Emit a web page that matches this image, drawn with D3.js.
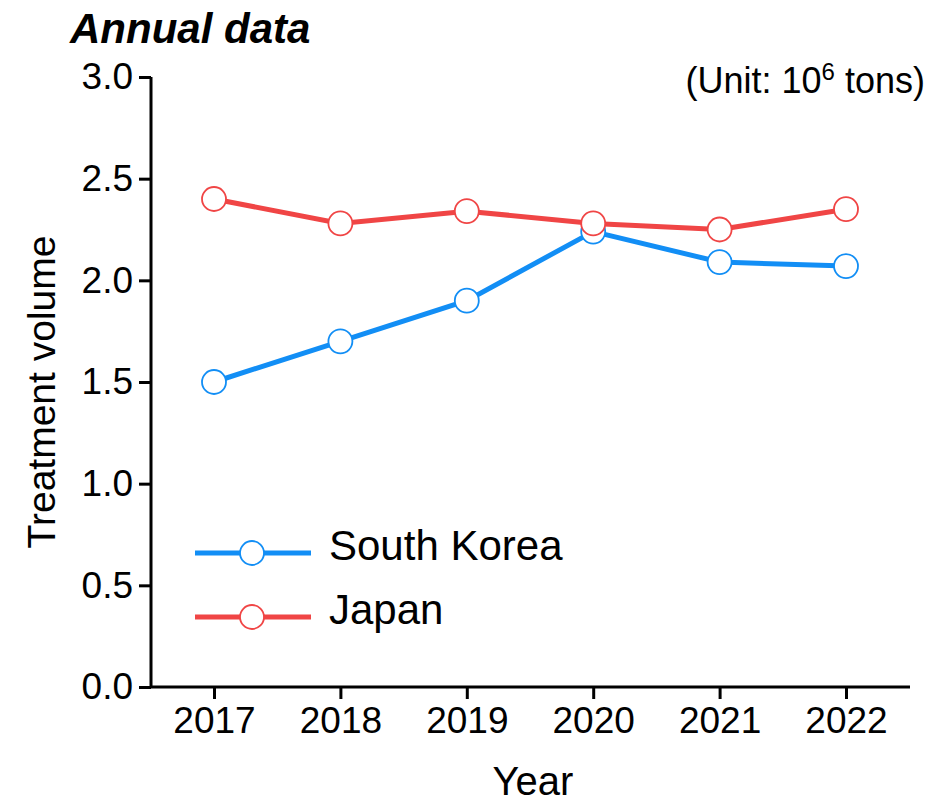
<!DOCTYPE html>
<html>
<head>
<meta charset="utf-8">
<script src="https://d3js.org/d3.v7.min.js"></script>
<style>
  body { margin: 0; background: white; }
  text { font-family: "Liberation Sans", Arial, sans-serif; fill: black; }
</style>
</head>
<body>
<svg id="chart" width="947" height="808"></svg>
<script>
const years = ["2017", "2018", "2019", "2020", "2021", "2022"];
const southKorea = [1.50, 1.70, 1.90, 2.24, 2.09, 2.07];
const japan = [2.40, 2.28, 2.34, 2.28, 2.25, 2.35];
const yTicks = [0.0, 0.5, 1.0, 1.5, 2.0, 2.5, 3.0];

const series = [
  {name: "South Korea", values: southKorea, color: "#128ef5"},
  {name: "Japan", values: japan, color: "#f04545"}
];

const svg = d3.select("#chart");
const plotLeft = 151, plotRight = 910, plotTop = 77, plotBottom = 687;

const x = d3.scalePoint().domain(years).range([214, 846]);
const y = d3.scaleLinear().domain([0, 3]).range([plotBottom, plotTop]);

// axes
const yAxis = svg.append("g")
  .attr("transform", "translate(" + plotLeft + ",0)")
  .call(d3.axisLeft(y).tickValues(yTicks).tickFormat(d3.format(".1f")).tickSize(12).tickPadding(6));
yAxis.select(".domain").attr("d", "M0," + plotTop + "V" + plotBottom);

const xAxis = svg.append("g")
  .attr("transform", "translate(0," + plotBottom + ")")
  .call(d3.axisBottom(x).tickSize(12).tickPadding(8));
xAxis.select(".domain").attr("d", "M" + plotLeft + ",0H" + plotRight);

svg.selectAll(".domain").attr("stroke", "black").attr("stroke-width", 3);
svg.selectAll(".tick line").attr("stroke", "black").attr("stroke-width", 3);
svg.selectAll(".tick text").style("font-size", "37px").attr("fill", "black");

// lines and markers
const line = d3.line()
  .x((d, i) => x(years[i]))
  .y(d => y(d));

series.forEach(s => {
  svg.append("path")
    .datum(s.values)
    .attr("d", line)
    .attr("fill", "none")
    .attr("stroke", s.color)
    .attr("stroke-width", 5);
  svg.append("g").selectAll("circle")
    .data(s.values)
    .enter()
    .append("circle")
    .attr("cx", (d, i) => x(years[i]))
    .attr("cy", d => y(d))
    .attr("r", 12)
    .attr("fill", "white")
    .attr("stroke", s.color)
    .attr("stroke-width", 1.8);
});

// legend
series.forEach((s, i) => {
  const ly = 553 + i * 64;
  svg.append("line").attr("x1", 195).attr("x2", 311).attr("y1", ly).attr("y2", ly)
    .attr("stroke", s.color).attr("stroke-width", 5);
  svg.append("circle").attr("cx", 252).attr("cy", ly).attr("r", 12)
    .attr("fill", "white").attr("stroke", s.color).attr("stroke-width", 1.8);
  svg.append("text").attr("x", 329).attr("y", ly + 7).text(s.name)
    .style("font-size", "42px");
});

// titles
svg.append("text").attr("x", 70).attr("y", 43)
  .style("font-size", "42px").style("font-weight", "bold").style("font-style", "italic")
  .text("Annual data");

const unit = svg.append("text").attr("x", 925).attr("y", 93).attr("text-anchor", "end")
  .style("font-size", "36px");
unit.append("tspan").text("(Unit: 10");
unit.append("tspan").attr("dy", -13).style("font-size", "24px").text("6");
unit.append("tspan").attr("dy", 13).text(" tons)");

svg.append("text")
  .attr("transform", "translate(55," + ((plotTop + plotBottom) / 2 + 10) + ") rotate(-90)")
  .attr("text-anchor", "middle")
  .style("font-size", "39px")
  .text("Treatment volume");

svg.append("text").attr("x", 533).attr("y", 795).attr("text-anchor", "middle")
  .style("font-size", "40px")
  .text("Year");
</script>
</body>
</html>
